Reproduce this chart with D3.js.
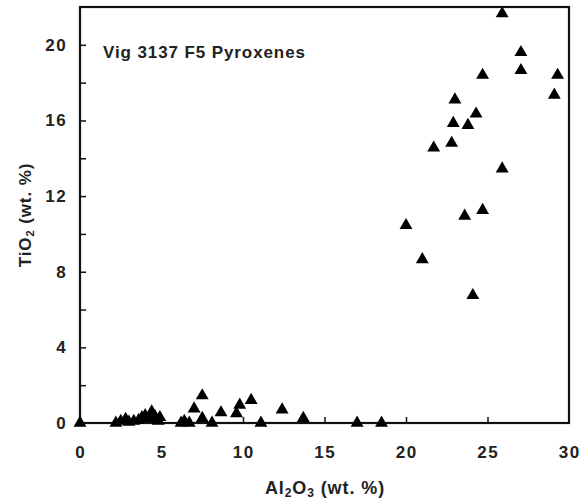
<!DOCTYPE html>
<html>
<head>
<meta charset="utf-8">
<script src="https://cdn.jsdelivr.net/npm/d3@7"></script>
<style>
  body { margin: 0; background: #fff; }
  svg text { font-family: "Liberation Sans", Arial, sans-serif; fill: #222; }
</style>
</head>
<body>
<svg id="chart" width="581" height="501"></svg>
<script>
// Al2O3 vs TiO2 (wt. %), Vig 3137 F5 pyroxenes
const al2o3 = [
  0, 2.2, 2.5, 2.8, 3.0, 3.3, 3.6, 3.8, 4.0, 4.2, 4.4, 4.6, 4.8, 4.9,
  6.2, 6.4, 6.7, 7.0, 7.5, 7.5, 8.1, 8.65, 9.6, 9.8, 10.5, 11.1,
  12.4, 13.7, 17.0, 18.5,
  20.0, 21.0, 24.1, 23.6, 24.7, 25.9, 21.7, 22.8, 22.9, 23.8, 24.3, 23.0,
  24.7, 29.1, 29.3, 27.05, 27.05, 25.9
];
const tio2 = [
  0, 0, 0.1, 0.2, 0.05, 0.1, 0.15, 0.3, 0.4, 0.25, 0.6, 0.35, 0.1, 0.3,
  0, 0.1, 0, 0.75, 1.45, 0.25, 0, 0.55, 0.5, 0.95, 1.2, 0,
  0.7, 0.25, 0, 0,
  10.45, 8.65, 6.75, 10.95, 11.25, 13.45, 14.55, 14.8, 15.85, 15.75, 16.35, 17.1,
  18.4, 17.35, 18.4, 18.65, 19.6, 21.65
];
const xTicks = [0, 5, 10, 15, 20, 25, 30];
const yTicks = [0, 2, 4, 6, 8, 10, 12, 14, 16, 18, 20];
const yLabels = [0, 4, 8, 12, 16, 20];

const svg = d3.select("#chart");
const x = d3.scaleLinear().domain([0, 30]).range([80, 569]);
const y = d3.scaleLinear().domain([0, 22]).range([423, 7]);

// frame
svg.append("rect")
  .attr("x", x(0)).attr("y", y(22))
  .attr("width", x(30) - x(0)).attr("height", y(0) - y(22))
  .attr("fill", "none").attr("stroke", "#111").attr("stroke-width", 2.2);

// inward ticks
const xAxis = d3.axisTop(x).tickValues(xTicks.slice(1, -1)).tickSize(6).tickFormat("");
svg.append("g").attr("transform", `translate(0,${y(0)})`).call(xAxis)
  .call(g => g.select(".domain").remove())
  .selectAll("line").attr("stroke", "#111").attr("stroke-width", 1.5);

const yAxis = d3.axisRight(y).tickValues(yTicks.slice(1)).tickSize(6).tickFormat("");
svg.append("g").attr("transform", `translate(${x(0)},0)`).call(yAxis)
  .call(g => g.select(".domain").remove())
  .selectAll("line").attr("stroke", "#111").attr("stroke-width", 1.5);

// tick labels
svg.append("g").selectAll("text").data(xTicks).join("text")
  .attr("x", d => x(d) + 0.7).attr("y", 458)
  .attr("text-anchor", "middle")
  .attr("font-size", 17).attr("font-weight", "bold")
  .attr("letter-spacing", 1.4)
  .text(d => d);

svg.append("g").selectAll("text").data(yLabels).join("text")
  .attr("x", 67).attr("y", d => y(d) + 6)
  .attr("text-anchor", "end")
  .attr("font-size", 17).attr("font-weight", "bold")
  .attr("letter-spacing", 1.4)
  .text(d => d);

// axis titles
const xt = svg.append("text")
  .attr("x", 325).attr("y", 494)
  .attr("text-anchor", "middle")
  .attr("font-size", 18).attr("font-weight", "bold")
  .attr("letter-spacing", 0.9);
xt.append("tspan").text("Al");
xt.append("tspan").attr("font-size", 12).attr("dy", 3).text("2");
xt.append("tspan").attr("dy", -3).text("O");
xt.append("tspan").attr("font-size", 12).attr("dy", 3).text("3");
xt.append("tspan").attr("dy", -3).text(" (wt. %)");

const yt = svg.append("text")
  .attr("transform", "translate(31,215) rotate(-90)")
  .attr("text-anchor", "middle")
  .attr("font-size", 17).attr("font-weight", "bold")
  .attr("letter-spacing", 0.9);
yt.append("tspan").text("TiO");
yt.append("tspan").attr("font-size", 11).attr("dy", 3).text("2");
yt.append("tspan").attr("dy", -3).text(" (wt. %)");

// chart label
svg.append("text")
  .attr("x", 103).attr("y", 58)
  .attr("font-size", 17)
  .attr("font-weight", "bold")
  .attr("letter-spacing", 0.9)
  .text("Vig 3137 F5 Pyroxenes");

// points
const tri = d3.symbol(d3.symbolTriangle, 72);
svg.append("g").selectAll("path").data(d3.range(al2o3.length)).join("path")
  .attr("transform", i => `translate(${x(al2o3[i])},${y(tio2[i])})`)
  .attr("d", tri)
  .attr("fill", "#000");
</script>
</body>
</html>
